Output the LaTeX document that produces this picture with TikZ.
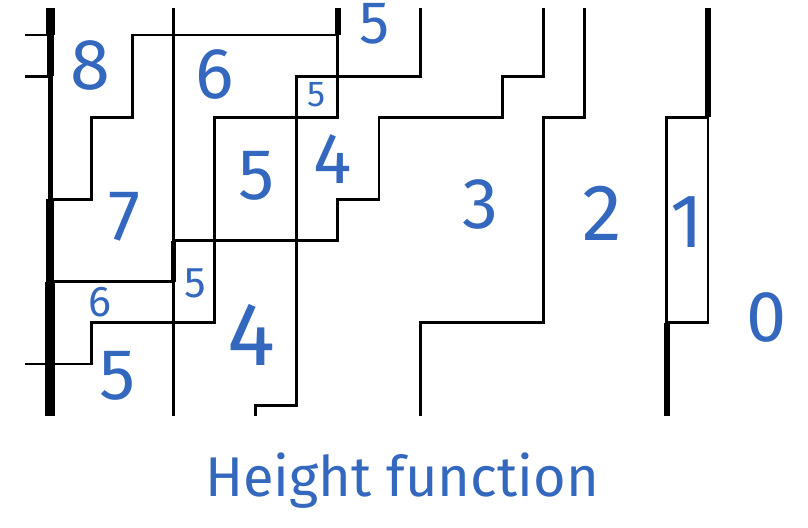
\documentclass[tikz,border=0pt]{standalone}
\usepackage{fontspec}
\setmainfont{Fira Sans}
\usepackage{xcolor}
\usepackage{tikz}

\definecolor{inkblue}{RGB}{52,103,190}

\begin{document}
\begin{tikzpicture}[
  x=41.125pt, y=-41.125pt,
  wall/.style={draw, line width=2.8pt},
  heavy/.style={draw, line width=5.5pt},
  digit/.style={text=inkblue, inner sep=0pt, font=\fontsize{72}{72}\selectfont},
  bigdigit/.style={digit, font=\fontsize{90}{90}\selectfont},
  smalldigit/.style={digit, font=\fontsize{43}{43}\selectfont},
  tinydigit/.style={digit, font=\fontsize{36}{36}\selectfont},
  caption/.style={text=inkblue, inner sep=0pt, font=\fontsize{56}{56}\selectfont}
]
\useasboundingbox (-1.216,-0.851) rectangle (18.432,11.964);

% left border
\draw[line width=9pt] (0,-0.657) -- (0,0);
\draw[line width=7pt] (0,0) -- (0,1);
\draw[line width=5pt] (0,1) -- (0,4);
\draw[line width=7.5pt] (0,4) -- (0,6);
\draw[line width=10pt] (0,6) -- (0,9.264);
\draw[wall] (-0.608,0) -- (0,0);
\draw[wall] (-0.608,1) -- (0,1);

% paths
\draw[wall] (0,4) -- (1,4) -- (1,2) -- (2,2) -- (2,0) -- (7,0) -- (7,2) -- (4,2) -- (4,7) -- (1,7) -- (1,8) -- (-0.608,8);
\draw[heavy] (7,-0.657) -- (7,0);
\draw[wall] (3,-0.657) -- (3,5);
\draw[heavy] (3,5) -- (3,6);
\draw[wall] (3,6) -- (3,9.264);
\draw[wall] (0,6) -- (3,6);
\draw[wall] (3,5) -- (7,5) -- (7,4) -- (8,4) -- (8,2) -- (11,2) -- (11,1) -- (12,1) -- (12,-0.657);
\draw[wall] (9,-0.657) -- (9,1) -- (6,1) -- (6,9) -- (5,9) -- (5,9.264);
\draw[wall] (13,-0.657) -- (13,2) -- (12,2) -- (12,7) -- (9,7) -- (9,9.264);
\draw[heavy] (16,-0.657) -- (16,2);
\draw[wall] (16,2) -- (15,2) -- (15,7) -- (16,7) -- (16,2);
\draw[heavy] (15,7) -- (15,9.264);

% heights
\node[digit] (h8) at (0.97,0.73) {8};
\node[digit] (h6a) at (4.01,0.97) {6};
\node[tinydigit] (h5a) at (6.49,1.46) {5};
\node[digit, font=\fontsize{60}{60}\selectfont] (h5b) at (7.9,-0.27) {5};
\node[digit] (h5c) at (5.03,3.43) {5};
\node[digit] (h4a) at (6.88,3.02) {4};
\node[digit] (h7) at (1.82,4.43) {7};
\node[smalldigit] (h6b) at (1.22,6.49) {6};
\node[smalldigit] (h5d) at (3.53,6.03) {5};
\node[bigdigit] (h4b) at (4.91,7.29) {4};
\node[digit] (h5e) at (1.63,8.29) {5};
\node[digit] (h3) at (10.46,4.13) {3};
\node[digit, font=\fontsize{80}{80}\selectfont] (h2) at (13.42,4.33) {2};
\node[digit, font=\fontsize{76}{76}\selectfont] (h1) at (15.49,4.55) {1};
\node[digit] (h0) at (17.43,6.88) {0};

\node[caption, anchor=base] (title) at (8.56,11.23) {Height function};
\end{tikzpicture}
\end{document}
